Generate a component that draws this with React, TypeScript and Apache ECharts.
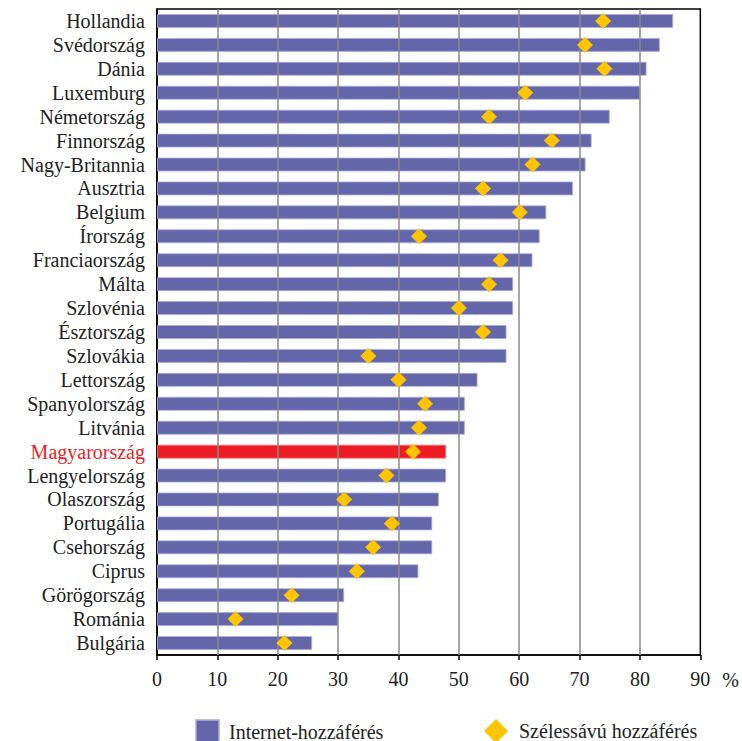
import React, { useEffect, useRef } from "react";
import * as echarts from "echarts";

const categories = [
  "Hollandia", "Svédország", "Dánia", "Luxemburg", "Németország", "Finnország",
  "Nagy-Britannia", "Ausztria", "Belgium", "Írország", "Franciaország", "Málta",
  "Szlovénia", "Észtország", "Szlovákia", "Lettország", "Spanyolország", "Litvánia",
  "Magyarország", "Lengyelország", "Olaszország", "Portugália", "Csehország", "Ciprus",
  "Görögország", "Románia", "Bulgária",
];
const internetAccess = [
  85.5, 83.3, 81.1, 80.0, 75.0, 72.0, 71.0, 68.9, 64.5, 63.4, 62.2, 59.0, 59.0, 57.9,
  57.9, 53.1, 51.0, 51.0, 47.9, 47.9, 46.7, 45.6, 45.6, 43.3, 31.0, 30.0, 25.7,
];
const broadbandAccess = [
  73.9, 70.9, 74.1, 61.0, 55.0, 65.4, 62.2, 54.0, 60.1, 43.4, 56.9, 55.0, 50.0, 54.0,
  35.0, 40.0, 44.4, 43.4, 42.4, 38.0, 31.0, 38.9, 35.8, 33.1, 22.3, 13.0, 21.1,
];
const gridTicks = [10, 20, 30, 40, 50, 60, 70, 80];
const highlight = "Magyarország";
const seriesNames = ["Internet-hozzáférés", "Szélessávú hozzáférés"];

const FONT = "Liberation Serif";
const FS = 20;
const BAR = "#6466aa";
const RED = "#ed1c24";
const GOLD = "#fdc500";
const TEXT = "#222222";

export default function App() {
  const ref = useRef<HTMLDivElement>(null);
  useEffect(() => {
    document.body.style.margin = "0";
    if (!ref.current) return;
    const chart = echarts.init(ref.current, undefined, { renderer: "svg" });
    chart.setOption({
      animation: false,
      backgroundColor: "#ffffff",
      grid: {
        left: 157, right: 39, top: 9, bottom: 86,
        show: true, borderColor: "#000", borderWidth: 1.5, backgroundColor: "transparent",
      },
      legend: [
        {
          data: [seriesNames[0]], left: 195, top: 719, padding: 0, icon: "rect",
          itemWidth: 23, itemHeight: 23,
          textStyle: { fontFamily: FONT, fontSize: FS, lineHeight: 18, color: TEXT, padding: [0, 0, 0, 5] },
        },
        {
          data: [seriesNames[1]], left: 484, top: 719, padding: 0, icon: "diamond",
          itemWidth: 24, itemHeight: 24,
          textStyle: { fontFamily: FONT, fontSize: FS, lineHeight: 18, color: TEXT, padding: [0, 0, 0, 6] },
        },
      ],
      xAxis: {
        type: "value", min: 0, max: 90, interval: 10,
        name: "%", nameLocation: "end", nameGap: 22,
        nameTextStyle: { fontFamily: FONT, fontSize: FS, color: TEXT, align: "left", verticalAlign: "top", padding: [15, 0, 0, 0] },
        axisLine: { show: true, lineStyle: { color: "#000", width: 1.5 } },
        axisTick: { show: true, length: 5, lineStyle: { color: "#000", width: 1.5 } },
        axisLabel: { fontFamily: FONT, fontSize: FS, color: TEXT, margin: 14 },
        splitLine: { show: false },
      },
      yAxis: {
        type: "category", data: categories, inverse: true,
        axisLine: { show: true, lineStyle: { color: "#000", width: 1.5 } },
        axisTick: { show: false },
        axisLabel: {
          interval: 0, fontFamily: FONT, fontSize: FS, margin: 12,
          color: (v: string) => (v === highlight ? RED : TEXT),
        },
      },
      series: [
        {
          name: seriesNames[0], type: "bar", barWidth: 14,
          itemStyle: { color: BAR, borderColor: "rgba(170,172,220,0.8)", borderWidth: 1 },
          data: internetAccess.map((v, i) =>
            categories[i] === highlight
              ? { value: v, itemStyle: { color: RED, borderColor: "rgba(240,120,120,0.8)" } }
              : v
          ),
          markLine: {
            silent: true, symbol: "none", label: { show: false },
            lineStyle: { color: "#8a8a8a", width: 1.5, type: "solid" },
            data: gridTicks.map((t) => ({ xAxis: t })),
          },
          z: 2,
        },
        {
          name: seriesNames[1], type: "scatter", symbol: "diamond", symbolSize: 16,
          itemStyle: { color: GOLD, opacity: 1 },
          data: broadbandAccess.map((v, i) => [v, i]),
          z: 5,
        },
      ],
    });
    return () => chart.dispose();
  }, []);
  return <div ref={ref} style={{ width: 742, height: 741 }} />;
}
